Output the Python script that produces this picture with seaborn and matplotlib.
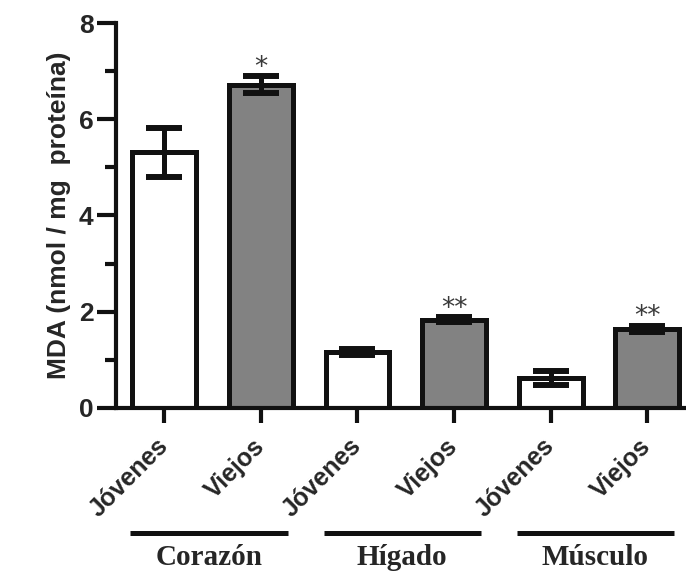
import numpy as np
import pandas as pd
import matplotlib
matplotlib.use('Agg')
import matplotlib.pyplot as plt
import matplotlib.transforms as mtransforms
from matplotlib.ticker import MultipleLocator
import seaborn as sns

# Data
organos = ['Corazón', 'Hígado', 'Músculo']
edades = ['Jóvenes', 'Viejos', 'Jóvenes', 'Viejos', 'Jóvenes', 'Viejos']
mda = [5.31, 6.72, 1.16, 1.83, 0.62, 1.64]
err = [0.51, 0.18, 0.07, 0.05, 0.15, 0.07]
signif = ['', '*', '', '**', '', '**']

sns.set_style('white')
plt.rcParams['font.family'] = ['Liberation Sans', 'DejaVu Sans']

grupos = [f'{o}-{e}' for o in organos for e in ['Jóvenes', 'Viejos']]
df = pd.DataFrame({'grupo': grupos, 'mda': mda})
colores = ['white', '#828282'] * 3

fig = plt.figure(figsize=(6.86, 5.76), dpi=100)
ax = fig.add_axes([0.169, 0.292, 0.831, 0.668])

sns.barplot(data=df, x='grupo', y='mda', hue='grupo', palette=colores,
            width=0.66, edgecolor='#111111', linewidth=3.6, saturation=1,
            legend=False, errorbar=None, ax=ax)
ax.errorbar(range(len(mda)), mda, yerr=err, fmt='none', ecolor='#111111',
            elinewidth=3.6, capsize=13, capthick=4.3, zorder=5)

for i, s in enumerate(signif):
    if s:
        ax.annotate(s, (i, mda[i] + err[i]), xytext=(0, 1), textcoords='offset points',
                    ha='center', va='baseline', fontsize=19, color='#3a3a3a',
                    family='DejaVu Sans')

ax.set_xlim(-0.5, 5.4)
ax.set_ylim(0, 8)
ax.yaxis.set_major_locator(MultipleLocator(2))
ax.yaxis.set_minor_locator(MultipleLocator(1))
ax.set_xticks(range(len(mda)))
ax.set_xticklabels(edades, rotation=45, ha='right', va='center',
                   rotation_mode='anchor', fontsize=18, fontweight='bold')
ax.tick_params(axis='y', which='major', direction='out', length=14, width=3,
               labelsize=19, pad=2, left=True, color='#111111')
ax.tick_params(axis='y', which='minor', direction='out', length=8, width=3,
               left=True, color='#111111')
ax.tick_params(axis='x', direction='out', length=11, width=3, bottom=True,
               pad=14, color='#111111')
for lab in ax.get_yticklabels():
    lab.set_fontweight('bold')

for side in ['top', 'right']:
    ax.spines[side].set_visible(False)
for side in ['left', 'bottom']:
    ax.spines[side].set_linewidth(3)
    ax.spines[side].set_color('#111111')

ax.set_xlabel('')
ax.set_ylabel('MDA (nmol / mg  proteína)', fontsize=19, fontweight='bold', labelpad=6)

# organ group lines and labels below the axis
trans = mtransforms.blended_transform_factory(ax.transData, ax.transAxes)
for k, organo in enumerate(organos):
    c1, c2 = 2 * k, 2 * k + 1
    ax.plot([c1 - 0.35, c2 + 0.28], [-0.325, -0.325], transform=trans,
            color='#111111', lw=3.6, clip_on=False, solid_capstyle='butt')
    ax.text((c1 + c2) / 2 - 0.04, -0.39, organo, transform=trans, ha='center', va='center',
            fontsize=21, fontweight='bold', family=['Liberation Serif', 'DejaVu Serif'])

plt.savefig('out.png', dpi=100)
